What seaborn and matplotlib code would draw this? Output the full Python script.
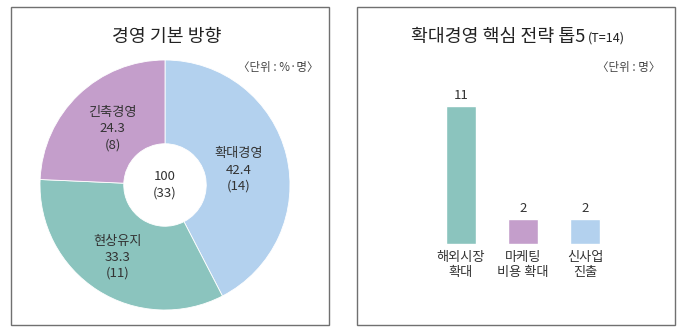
import matplotlib
matplotlib.use("Agg")
import matplotlib.pyplot as plt
import seaborn as sns
from matplotlib.patches import Rectangle

# ---- data ----
pie_labels = ["확대경영", "현상유지", "긴축경영"]
pie_pct = [42.4, 33.3, 24.3]
pie_counts = [14, 11, 8]
pie_total_pct = 100
pie_total_count = 33

bar_cats = ["해외시장\n확대", "마케팅\n비용 확대", "신사업\n진출"]
bar_vals = [11, 2, 2]

colors_pie = ["#b3d1ee", "#8bc4be", "#c49ecb"]
colors_bar = ["#8bc4be", "#c49ecb", "#b3d1ee"]

sns.set_theme(style="white")
plt.rcParams['font.family'] = ['Noto Sans CJK KR', 'DejaVu Sans']

W, H = 684, 334
fig = plt.figure(figsize=(W / 100, H / 100), dpi=100)
fig.patch.set_facecolor("white")

def fx(px):
    return px / W

def fy(py):
    return 1 - py / H

txt = "#333333"

# boxes
for x0, x1 in [(11, 329), (357, 675)]:
    fig.add_artist(Rectangle((fx(x0), fy(325)), fx(x1 - x0), (325 - 7) / H,
                             transform=fig.transFigure, fill=False,
                             edgecolor="#707070", linewidth=1.0))

# ---- pie (donut) ----
cx, cy, r = 165, 185, 125
axp = fig.add_axes([fx(cx - r), fy(cy + r), fx(2 * r), 2 * r / H])
axp.pie(pie_pct, colors=colors_pie, startangle=90, counterclock=False,
        wedgeprops=dict(width=0.67, edgecolor="white", linewidth=0.6),
        radius=1.0)
axp.set_xlim(-1, 1)
axp.set_ylim(-1, 1)
axp.set_aspect("equal")
axp.axis("off")

label_pos = [(0.59, 0.12), (-0.38, -0.58), (-0.42, 0.45)]
for (lx, ly), name, p, c in zip(label_pos, pie_labels, pie_pct, pie_counts):
    axp.text(lx, ly, f"{name}\n{p}\n({c})", ha="center", va="center",
             fontsize=9.5, color=txt, linespacing=1.3)
axp.text(0, 0, f"{pie_total_pct}\n({pie_total_count})", ha="center", va="center",
         fontsize=9.5, color=txt, linespacing=1.3)

fig.text(fx(167), fy(37), "경영 기본 방향", ha="center", va="center",
         fontsize=13.2, color="#222222", fontweight="medium")
fig.text(fx(318), fy(67), "〈단위 : %·명〉", ha="right", va="center",
         fontsize=8.3, color="#444444")

# ---- bars ----
step = 62
left = 461 - step / 2
axb = fig.add_axes([fx(left), fy(244), fx(3 * step), 176 / H])
sns.barplot(x=bar_cats, y=bar_vals, hue=bar_cats, palette=colors_bar,
            legend=False, width=0.48, ax=axb, saturation=1)
axb.set_xlim(-0.5, 2.5)
axb.set_ylim(0, 14)
for spine in axb.spines.values():
    spine.set_visible(False)
axb.set_yticks([])
axb.set_ylabel("")
axb.set_xlabel("")
axb.tick_params(axis="x", length=0, pad=5, labelsize=9.5, labelcolor=txt)
for lbl in axb.get_xticklabels():
    lbl.set_linespacing(1.25)
axb.patch.set_alpha(0)
for i, v in enumerate(bar_vals):
    axb.annotate(f"{v}", (i, v), xytext=(0, 3), textcoords="offset points",
                 ha="center", va="bottom", fontsize=9.5, color=txt)

fig.text(fx(585), fy(37), "확대경영 핵심 전략 톱5", ha="right", va="center",
         fontsize=13.2, color="#222222", fontweight="medium")
fig.text(fx(588), fy(38), "(T=14)", ha="left", va="center",
         fontsize=9, color="#222222")
fig.text(fx(660), fy(67), "〈단위 : 명〉", ha="right", va="center",
         fontsize=8.3, color="#444444")

fig.savefig("out.png", dpi=100, facecolor="white")
